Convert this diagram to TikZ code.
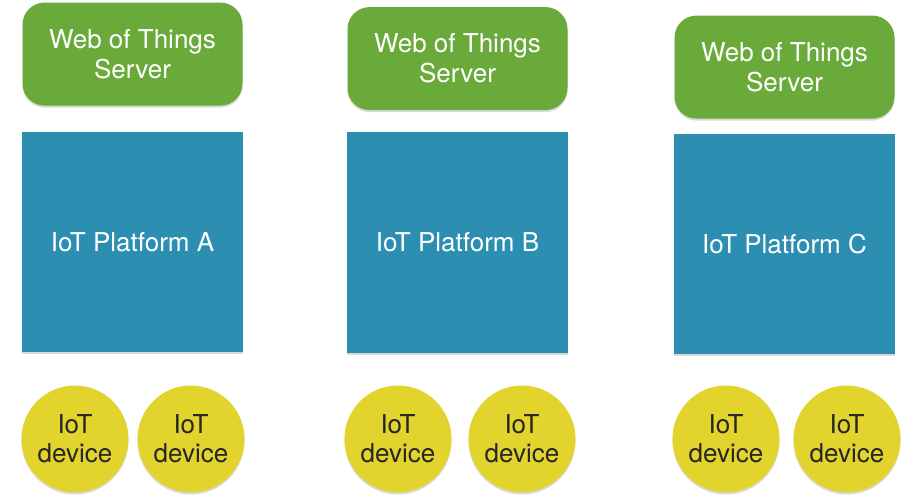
\documentclass[tikz,border=0pt]{standalone}
\usepackage{fontspec}
\setmainfont{TeX Gyre Heros}
\usepackage{xcolor}
\usetikzlibrary{positioning,shadows}

\definecolor{wotgreen}{RGB}{106,170,58}
\definecolor{platblue}{RGB}{44,143,178}
\definecolor{devyellow}{RGB}{226,211,45}

\begin{document}
\begin{tikzpicture}[
  x=1pt, y=-1pt,
  softshadow/.style={drop shadow={shadow xshift=0pt, shadow yshift=-2pt, opacity=0.15, fill=black}},
  server/.style={fill=wotgreen, rounded corners=22pt, minimum width=220pt, minimum height=103pt,
    inner sep=0pt, align=center, text=white, font=\fontsize{26}{30}\selectfont, softshadow},
  platform/.style={fill=platblue, minimum width=221pt, minimum height=220pt, inner sep=0pt,
    text=white, font=\fontsize{26}{30}\selectfont, softshadow},
  device/.style={circle, fill=devyellow, minimum size=107pt, inner sep=0pt, align=center,
    text=black!85, font=\fontsize{26}{29}\selectfont, softshadow}
]
  \useasboundingbox (0,0) rectangle (905,497);

  % IoT platforms
  \node[platform] (platA) at (132.5,242) {IoT Platform A};
  \node[platform] (platB) at (457.5,242.5) {IoT Platform B};
  \node[platform] (platC) at (784.5,244) {IoT Platform C};

  % Web of Things servers on top
  \node[server, above=26pt of platA] (wotA) {Web of Things\\Server};
  \node[server, above=22pt of platB] (wotB) {Web of Things\\Server};
  \node[server, above=15pt of platC] (wotC) {Web of Things\\Server};

  % IoT devices
  \node[device] (devA1) at (75,439) {IoT\\device};
  \node[device] (devA2) at (191,439) {IoT\\device};
  \node[device] (devB1) at (398,439) {IoT\\device};
  \node[device] (devB2) at (522,439) {IoT\\device};
  \node[device] (devC1) at (726,439) {IoT\\device};
  \node[device] (devC2) at (847,439) {IoT\\device};
\end{tikzpicture}
\end{document}
